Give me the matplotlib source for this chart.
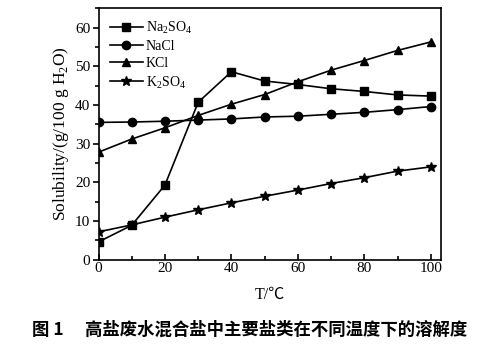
import matplotlib
matplotlib.use("Agg")
import matplotlib.pyplot as plt
from matplotlib.ticker import MultipleLocator

plt.rcParams['font.family'] = ['Liberation Serif', 'DejaVu Serif', 'Noto Sans CJK SC']
plt.rcParams['mathtext.fontset'] = 'custom'
plt.rcParams['mathtext.rm'] = 'Liberation Serif'

T = [0, 10, 20, 30, 40, 50, 60, 70, 80, 90, 100]
na2so4 = [4.6, 8.9, 19.3, 40.7, 48.6, 46.2, 45.3, 44.2, 43.5, 42.6, 42.3]
nacl = [35.5, 35.6, 35.8, 36.1, 36.4, 36.9, 37.1, 37.6, 38.1, 38.8, 39.6]
kcl = [27.8, 31.2, 34.1, 37.3, 40.2, 42.7, 46.0, 49.0, 51.5, 54.1, 56.3]
k2so4 = [7.2, 9.0, 11.0, 12.9, 14.7, 16.4, 18.0, 19.7, 21.2, 22.9, 24.0]
labels = ['Na$_2$SO$_4$', 'NaCl', 'KCl', 'K$_2$SO$_4$']
markers = ['s', 'o', '^', '*']

fig = plt.figure(figsize=(4.99, 3.46), dpi=100)
ax = fig.add_axes([98.5/499, 86.3/346, (440.7-98.5)/499, (259.7-8.3)/346])

series = [na2so4, nacl, kcl, k2so4]
sizes = [5.5, 6, 6, 7]
for y, lab, m, ms in zip(series, labels, markers, sizes):
    ax.plot(T, y, color='black', marker=m, markersize=ms, linewidth=1.2, label=lab)

ax.set_xlim(0, 103)
ax.set_ylim(0, 65)
ax.xaxis.set_major_locator(MultipleLocator(20))
ax.xaxis.set_minor_locator(MultipleLocator(10))
ax.yaxis.set_major_locator(MultipleLocator(10))
ax.yaxis.set_minor_locator(MultipleLocator(5))
ax.tick_params(axis='x', which='both', direction='in', top=False, labelsize=11, width=1.2)
ax.tick_params(axis='x', which='major', length=4)
ax.tick_params(axis='x', which='minor', length=3)
ax.tick_params(axis='y', which='both', direction='out', right=False, labelsize=11, width=1.2)
ax.tick_params(axis='y', which='major', length=4)
ax.tick_params(axis='y', which='minor', length=3)
ax.tick_params(axis='both', which='major', pad=2)
for s in ax.spines.values():
    s.set_linewidth(1.2)

ax.set_xlabel('T/℃', fontsize=11.5, labelpad=8, family=['Liberation Serif', 'Noto Sans CJK SC'])
ax.set_ylabel('Solubility/(g/100 g H$_2$O)', fontsize=12.5, labelpad=3)

leg = ax.legend(loc='upper left', frameon=False, fontsize=10, handlelength=2.4,
                handletextpad=0.2, labelspacing=0.3, borderaxespad=0.4,
                bbox_to_anchor=(0.0, 1.0))

fig.text(0.5, 16/346, '图 1\u2003 高盐废水混合盐中主要盐类在不同温度下的溶解度',
         ha='center', va='center', fontsize=12.5, fontweight='bold',
         family=['Noto Sans CJK SC', 'DejaVu Sans'])

fig.savefig('out.png', dpi=100)
